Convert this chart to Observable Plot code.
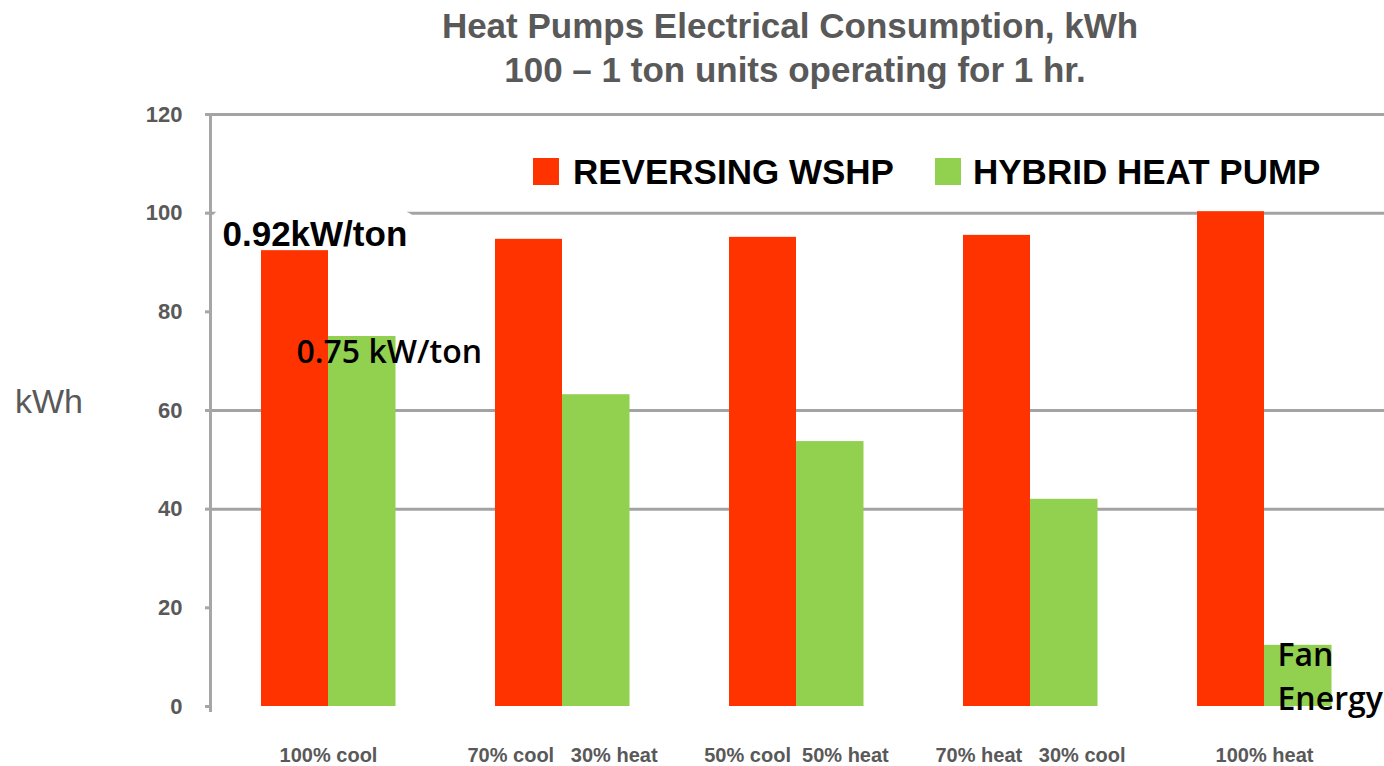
<!DOCTYPE html>
<html>
<head>
<meta charset="utf-8">
<script src="https://cdn.jsdelivr.net/npm/d3@7"></script>
<script src="https://cdn.jsdelivr.net/npm/@observablehq/plot@0.6"></script>
<style>
  body { margin: 0; background: #fff; }
  #wrap { position: relative; width: 1384px; height: 766px; overflow: hidden; font-family: "Liberation Sans", Arial, sans-serif; }
  .title { position: absolute; width: 1384px; text-align: center; font-size: 35px; line-height: 44px; font-weight: bold; color: #595959; white-space: nowrap; }
  .leg { position: absolute; font-size: 35px; line-height: 35px; font-weight: bold; color: #000; white-space: nowrap; }
  .sw { position: absolute; width: 26px; height: 27px; }
  .ylab { position: absolute; left: 15px; top: 384px; font-size: 34px; line-height: 34px; color: #595959; }
  #chart { position: absolute; left: 0; top: 0; }
  #chart svg { font-family: "Liberation Sans", Arial, sans-serif; }
  #chart g[aria-label="y-axis tick label"] { fill: #595959; }
  #chart g[aria-label="x-axis tick label"] { fill: #595959; }
</style>
</head>
<body>
<div id="wrap">
  <div id="chart"></div>
  <div class="title" style="top:4px; left:98px;">Heat Pumps Electrical Consumption, kWh</div>
  <div class="title" style="top:48px; left:103px;">100 – 1 ton units operating for 1 hr.</div>
  <div class="ylab">kWh</div>
  <div id="legend"></div>
</div>
<script>
const categories = [
  "100% cool",
  "70% cool\u00A0\u00A0\u00A030% heat",
  "50% cool\u00A0\u00A050% heat",
  "70% heat\u00A0\u00A0\u00A030% cool",
  "100% heat"
];
const seriesNames = ["REVERSING WSHP", "HYBRID HEAT PUMP"];
const seriesColors = ["#FF3300", "#92D050"];
const reversingWSHP = [92.4, 94.7, 95.1, 95.5, 100.3];
const hybridHeatPump = [75.0, 63.2, 53.7, 42.0, 12.4];
const yTicks = [0, 20, 40, 60, 80, 100, 120];
const gridValues = [40, 60, 100, 120];

const redData = categories.map((c, i) => ({cat: c, value: reversingWSHP[i]}));
const greenData = categories.map((c, i) => ({cat: c, value: hybridHeatPump[i]}));

const annRed = [{cat: categories[0], value: reversingWSHP[0], text: "0.92kW/ton"}];
const annGreen = [{cat: categories[0], value: hybridHeatPump[0], text: "0.75 kW/ton"}];
const annFan = [{cat: categories[4], value: hybridHeatPump[4], text: "Fan\nEnergy"}];

const chart = Plot.plot({
  width: 1384,
  height: 766,
  marginTop: 114,
  marginBottom: 60,
  marginLeft: 210,
  marginRight: 0,
  x: {domain: categories, range: [210, 1381], padding: 0, label: null},
  y: {domain: [0, 120], label: null},
  marks: [
    Plot.ruleY(gridValues, {stroke: "#a3a3a3", strokeWidth: 3}),
    Plot.text(annRed, {x: "cat", y: "value", text: "text", dx: -106, dy: -30, textAnchor: "start", lineAnchor: "top",
      fontSize: 35, fontWeight: "bold", fontFamily: "Liberation Sans", fill: "#000",
      stroke: "#fff", strokeWidth: 32, paintOrder: "stroke", strokeLinejoin: "miter"}),
    Plot.ruleX([categories[0]], {dx: -118, y1: -1.2, y2: 120.2, stroke: "#a6a6a6", strokeWidth: 3}),
    Plot.axisY({ticks: yTicks, tickSize: 5, tickPadding: 23, color: "#a6a6a6", strokeWidth: 3, fontSize: 22, fontWeight: "bold", label: null}),
    Plot.axisX({tickSize: 0, tickPadding: 41, fontSize: 20, fontWeight: "bold", color: "#595959", label: null}),
    Plot.barY(redData, {x: "cat", y: "value", fill: seriesColors[0], insetLeft: 50, insetRight: 117}),
    Plot.barY(greenData, {x: "cat", y: "value", fill: seriesColors[1], insetLeft: 117, insetRight: 49.5}),
    Plot.text(annGreen, {x: "cat", y: "value", text: "text", dx: -32, dy: 4, textAnchor: "start", lineAnchor: "top",
      fontSize: 32, fontWeight: 600, fontFamily: "Open Sans", fill: "#000"}),
    Plot.text(annFan, {x: "cat", y: "value", text: "text", dx: 13, dy: -11, textAnchor: "start", lineAnchor: "top",
      fontSize: 32, lineHeight: 1.375, fontWeight: 600, fontFamily: "Open Sans", fill: "#000"})
  ]
});
document.getElementById("chart").appendChild(chart);

// legend
const legend = document.getElementById("legend");
const legPos = [{sw: 533, tx: 573}, {sw: 935, tx: 973}];
seriesNames.forEach((name, i) => {
  const s = document.createElement("div");
  s.className = "sw";
  s.style.left = legPos[i].sw + "px";
  s.style.top = "158px";
  s.style.background = seriesColors[i];
  legend.appendChild(s);
  const t = document.createElement("div");
  t.className = "leg";
  t.style.left = legPos[i].tx + "px";
  t.style.top = "154px";
  t.textContent = name;
  legend.appendChild(t);
});
</script>
</body>
</html>
